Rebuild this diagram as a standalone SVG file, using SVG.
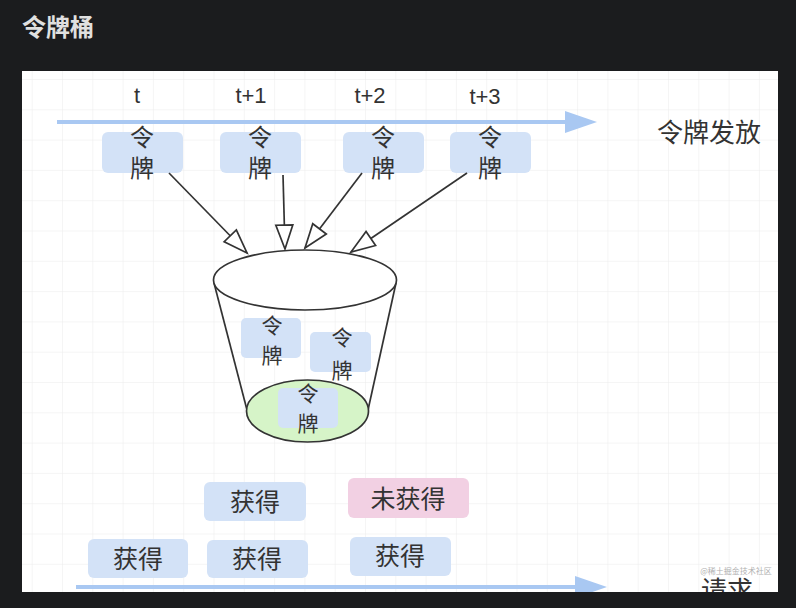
<svg xmlns="http://www.w3.org/2000/svg" width="796" height="608" viewBox="0 0 796 608">
<style>
.tk{fill:#d3e2f7}
.t{font-family:"Liberation Sans","Noto Sans CJK SC",sans-serif;fill:#333;text-anchor:middle}
.c{font-family:"Noto Sans CJK SC",sans-serif;fill:#333;text-anchor:middle}
.ln{stroke:#333;stroke-width:1.7;fill:none}
</style>
<defs>
<pattern id="grid" x="31.7" y="79" width="30.3" height="30.3" patternUnits="userSpaceOnUse">
<path d="M0 0H30.3M0 0V30.3" stroke="#ebebeb" stroke-width="1" fill="none"/>
</pattern>
<marker id="ah" markerUnits="userSpaceOnUse" markerWidth="30" markerHeight="24" refX="24" refY="8.5" orient="auto" overflow="visible">
<path d="M0,0 L24,8.5 L0,17 Z" fill="#fff" stroke="#333" stroke-width="1.7"/>
</marker>
<clipPath id="pic"><rect x="22" y="71" width="756" height="521"/></clipPath>
</defs>
<rect width="796" height="608" fill="#1b1c1e"/>
<text x="22" y="36" font-family="Noto Sans CJK SC,sans-serif" font-size="24" font-weight="bold" fill="#e0e0e0">令牌桶</text>
<g clip-path="url(#pic)">
<rect x="22" y="71" width="756" height="521" fill="#fff"/>
<rect x="22" y="71" width="756" height="521" fill="url(#grid)"/>
<g id="timeline">
<text class="t" x="137" y="103" font-size="22">t</text>
<text class="t" x="251" y="103" font-size="22">t+1</text>
<text class="t" x="370" y="103" font-size="22">t+2</text>
<text class="t" x="485" y="104" font-size="22">t+3</text>
<line x1="57" y1="122" x2="570" y2="122" stroke="#a9c8f2" stroke-width="4"/>
<polygon points="565,111 597,122 565,133" fill="#a9c8f2"/>
<text class="c" x="709" y="142" font-size="26">令牌发放</text>
</g>
<g id="token1"><rect class="tk" x="102" y="132" width="81" height="41" rx="6"/><text class="c" font-size="24"><tspan x="142" y="146">令</tspan><tspan x="142" y="177">牌</tspan></text></g>
<g id="token2"><rect class="tk" x="220" y="132" width="81" height="41" rx="6"/><text class="c" font-size="24"><tspan x="260" y="146">令</tspan><tspan x="260" y="177">牌</tspan></text></g>
<g id="token3"><rect class="tk" x="343" y="132" width="81" height="41" rx="6"/><text class="c" font-size="24"><tspan x="383" y="146">令</tspan><tspan x="383" y="177">牌</tspan></text></g>
<g id="token4"><rect class="tk" x="450" y="132" width="81" height="41" rx="6"/><text class="c" font-size="24"><tspan x="490" y="146">令</tspan><tspan x="490" y="177">牌</tspan></text></g>
<g id="connectors">
<line class="ln" x1="169" y1="173" x2="247" y2="253" marker-end="url(#ah)"/>
<line class="ln" x1="283" y1="175" x2="285" y2="249" marker-end="url(#ah)"/>
<line class="ln" x1="362" y1="173" x2="305" y2="248" marker-end="url(#ah)"/>
<line class="ln" x1="467" y1="173" x2="351" y2="252" marker-end="url(#ah)"/>
</g>
<g id="bucket">
<line class="ln" x1="214" y1="283" x2="247" y2="410"/>
<line class="ln" x1="396" y1="283" x2="368" y2="410"/>
<ellipse cx="305" cy="280" rx="91.5" ry="30" fill="#fff" stroke="#333" stroke-width="1.7"/>
<ellipse cx="307.5" cy="411" rx="61" ry="31" fill="#d6f4c8" stroke="#333" stroke-width="1.7"/>
</g>
<g id="inner1"><rect class="tk" x="241" y="318" width="60" height="40" rx="5"/><text class="c" font-size="21"><tspan x="272" y="333">令</tspan><tspan x="272" y="363">牌</tspan></text></g>
<g id="inner2"><rect class="tk" x="310" y="332" width="61" height="40" rx="5"/><text class="c" font-size="21"><tspan x="342" y="345">令</tspan><tspan x="342" y="378">牌</tspan></text></g>
<g id="inner3"><rect class="tk" x="278" y="388" width="60" height="40" rx="5"/><text class="c" font-size="21"><tspan x="308" y="401">令</tspan><tspan x="308" y="431">牌</tspan></text></g>
<g id="req1"><rect class="tk" x="204" y="482" width="102" height="39" rx="6"/><text class="c" x="255" y="511" font-size="25">获得</text></g>
<g id="req2"><rect x="348" y="478" width="121" height="40" rx="6" fill="#f2d0e3"/><text class="c" x="408" y="508" font-size="25">未获得</text></g>
<g id="req3"><rect class="tk" x="88" y="539" width="100" height="39" rx="6"/><text class="c" x="138" y="568" font-size="25">获得</text></g>
<g id="req4"><rect class="tk" x="207" y="540" width="101" height="38" rx="6"/><text class="c" x="257" y="568" font-size="25">获得</text></g>
<g id="req5"><rect class="tk" x="350" y="537" width="101" height="39" rx="6"/><text class="c" x="400" y="565" font-size="25">获得</text></g>
<g id="requestline">
<line x1="76" y1="587" x2="580" y2="587" stroke="#a9c8f2" stroke-width="4"/>
<polygon points="575,576 607,587 575,598" fill="#a9c8f2"/>
<text class="c" x="727" y="600" font-size="26">请求</text>
<text x="736" y="574" font-family="Noto Sans CJK SC,sans-serif" font-size="8" fill="#b0b0b0" text-anchor="middle">@稀土掘金技术社区</text>
</g>
</g>
</svg>
